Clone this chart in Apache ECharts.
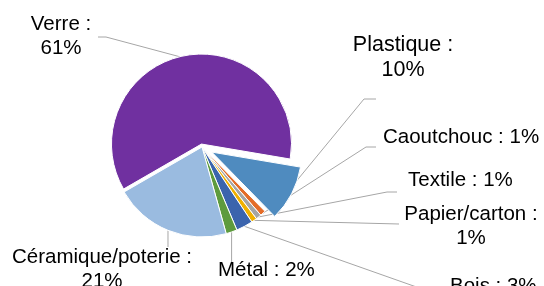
<!DOCTYPE html>
<html>
<head>
<meta charset="utf-8">
<script src="https://cdn.jsdelivr.net/npm/echarts@6/dist/echarts.min.js"></script>
<style>
  html, body { margin: 0; padding: 0; background: #fff; }
  #main { width: 544px; height: 286px; }
</style>
</head>
<body>
<div id="main"></div>
<script>
// répartition des matériaux (%)
var categories = ['Verre', 'Plastique', 'Caoutchouc', 'Textile', 'Papier/carton', 'Bois', 'Métal', 'Céramique/poterie'];
var values = [61, 10, 1, 1, 1, 3, 2, 21];
var colors = ['#7030A0', '#4F8BBF', '#E46C28', '#A5A5A5', '#F0B000', '#3B64AD', '#5E9B3E', '#9ABBE0'];
var twoLines = ['Verre', 'Plastique', 'Papier/carton', 'Céramique/poterie'];
// parts détachées du camembert et leur décalage
var exploded = {'Verre': 3, 'Plastique': 11};

// placement des étiquettes + coude des lignes de rappel
var labelPos = {
  'Verre':             {x: 61,  y: 12,  align: 'center', line: [[106, 37], [98, 37]]},
  'Plastique':         {x: 403, y: 33,  align: 'center', anchor: [271, 212], line: [[364, 99], [376, 99]]},
  'Caoutchouc':        {x: 383, y: 125, align: 'left',   line: [[366, 147], [376, 147]]},
  'Textile':           {x: 408, y: 168, align: 'left',   line: [[387, 192], [397, 192]]},
  'Papier/carton':     {x: 471, y: 202, align: 'center', line: [[399, 224]]},
  'Bois':              {x: 450, y: 274, align: 'left',   line: [[425, 290]]},
  'Métal':             {x: 218, y: 258, align: 'left',   down: 263},
  'Céramique/poterie': {x: 102, y: 245, align: 'center', down: 247}
};

var clear = 'rgba(0,0,0,0)';
var center = [202, 147];
var radius = 90;

// série principale : parts non détachées + toutes les étiquettes
var mainData = categories.map(function (name, i) {
  var item = {name: name, value: values[i], itemStyle: {color: colors[i]}};
  if (exploded[name]) item.itemStyle = {color: clear, borderWidth: 0};
  if (name === 'Plastique') item.label = {fontSize: 21.5, lineHeight: 25};
  return item;
});

// une série par part détachée
function explodedSeries(which) {
  return {
    type: 'pie',
    center: center,
    radius: radius,
    startAngle: 210,
    selectedMode: 'single',
    selectedOffset: exploded[which],
    silent: true,
    emphasis: {disabled: true},
    itemStyle: {borderColor: '#fff', borderWidth: 1},
    label: {show: false},
    labelLine: {show: false},
    data: categories.map(function (name, i) {
      if (name === which) return {name: name, value: values[i], selected: true, itemStyle: {color: colors[i]}};
      return {name: name, value: values[i], itemStyle: {color: clear, borderWidth: 0}};
    })
  };
}

var chart = echarts.init(document.getElementById('main'));

var option = {
  animation: false,
  series: [
    {
      type: 'pie',
      center: center,
      radius: radius,
      startAngle: 210,
      avoidLabelOverlap: false,
      emphasis: {disabled: true},
      itemStyle: {borderColor: '#fff', borderWidth: 1},
      label: {
        show: true,
        position: 'outside',
        fontFamily: 'Liberation Sans, Arial, sans-serif',
        fontSize: 20.5,
        lineHeight: 24,
        color: '#000',
        formatter: function (p) {
          var sep = twoLines.indexOf(p.name) >= 0 ? ' :\n' : ' : ';
          return p.name + sep + Math.round(p.percent) + '%';
        }
      },
      labelLine: {show: true, length: 10, length2: 10, lineStyle: {color: '#A6A6A6', width: 1}},
      labelLayout: function (p) {
        var pos = labelPos[categories[p.dataIndex]];
        var a = pos.anchor || (p.labelLinePoints ? p.labelLinePoints[0] : [0, 0]);
        var pts;
        if (pos.down) pts = [a, [a[0], pos.down]];
        else pts = [a].concat(pos.line);
        return {x: pos.x, y: pos.y, align: pos.align, verticalAlign: 'top', labelLinePoints: pts};
      },
      data: mainData
    },
    explodedSeries('Verre'),
    explodedSeries('Plastique')
  ]
};

chart.setOption(option);
</script>
</body>
</html>
